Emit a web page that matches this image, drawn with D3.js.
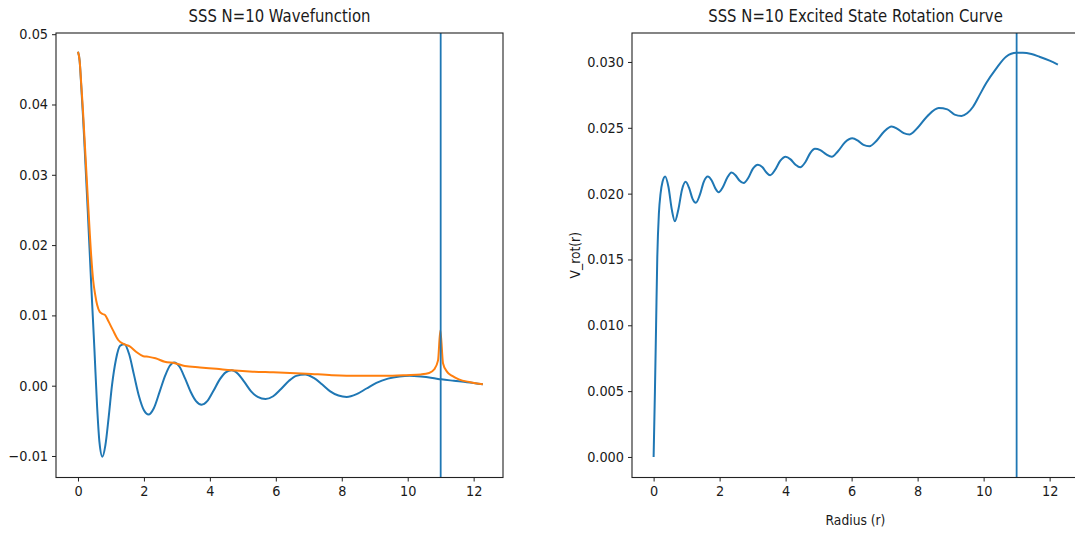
<!DOCTYPE html>
<html><head><meta charset="utf-8">
<script src="https://cdn.jsdelivr.net/npm/d3@7"></script>
<style>
body{margin:0;background:#fff;}
svg{display:block;}
text{font-family:'DejaVu Sans',sans-serif;fill:#1a1a1a;}
</style></head><body>
<svg id="c" width="1075" height="533"></svg>
<script>
// ---------- data ----------
const waveR = [0,0.05,0.10,0.15,0.20,0.30,0.40,0.50,0.58,0.65,0.74,0.83,0.93,1.03,1.15,1.28,1.41,1.55,1.70,1.85,2.00,2.14,2.30,2.48,2.65,2.78,2.92,3.08,3.25,3.42,3.58,3.75,3.92,4.10,4.30,4.48,4.66,4.85,5.05,5.25,5.45,5.69,5.92,6.15,6.40,6.62,6.89,7.15,7.40,7.65,7.90,8.15,8.45,8.75,9.05,9.40,9.75,10.05,10.40,10.75,11.02,11.40,11.80,12.28];
const waveVals = [0.0475,0.0462,0.0425,0.0385,0.0340,0.0245,0.0145,0.0050,-0.0030,-0.0080,-0.0101,-0.0085,-0.0045,0.0000,0.0037,0.0057,0.0059,0.0045,0.0015,-0.0015,-0.0035,-0.0041,-0.0032,-0.0008,0.0015,0.0028,0.0033,0.0027,0.0010,-0.0009,-0.0022,-0.0027,-0.0022,-0.0008,0.0009,0.0019,0.0022,0.0017,0.0005,-0.0008,-0.0016,-0.0019,-0.0015,-0.0005,0.0007,0.0014,0.0016,0.0011,0.0002,-0.0008,-0.0014,-0.0016,-0.0012,-0.0004,0.0004,0.0010,0.0013,0.0014,0.0013,0.0011,0.0009,0.0007,0.0005,0.0002];

const envR = [0,0.05,0.10,0.15,0.20,0.30,0.40,0.46,0.52,0.58,0.66,0.75,0.83,0.92,1.06,1.22,1.40,1.57,1.77,1.98,2.15,2.35,2.63,2.94,3.24,3.70,4.20,4.66,5.30,5.92,6.94,7.70,8.45,9.30,9.97,10.40,10.65,10.80,10.92,10.99,11.07,11.19,11.35,11.55,11.90,12.28];
const envVals = [0.0475,0.0462,0.0428,0.0392,0.0350,0.0265,0.0185,0.0150,0.0130,0.0115,0.0105,0.0102,0.0100,0.0092,0.0079,0.0065,0.0059,0.0056,0.0048,0.0042,0.0041,0.0039,0.0034,0.0032,0.0028,0.0026,0.0024,0.0022,0.0020,0.0019,0.0017,0.0015,0.0014,0.0014,0.0015,0.0016,0.0018,0.0023,0.0036,0.0079,0.0032,0.0020,0.0014,0.0009,0.0005,0.0002];

const rotR = [0,0.04,0.075,0.11,0.16,0.21,0.27,0.35,0.45,0.55,0.645,0.75,0.86,0.97,1.08,1.18,1.28,1.40,1.52,1.64,1.76,1.87,1.97,2.10,2.23,2.36,2.48,2.60,2.73,2.87,3.01,3.16,3.30,3.42,3.53,3.68,3.84,4.00,4.15,4.30,4.44,4.60,4.75,4.89,5.05,5.22,5.40,5.58,5.80,6.02,6.20,6.36,6.54,6.75,6.98,7.21,7.40,7.58,7.76,8.00,8.30,8.64,8.90,9.12,9.33,9.50,9.68,9.88,10.08,10.38,10.68,10.99,11.19,11.45,11.69,12.00,12.25];
const rotVals = [0,0.0050,0.0100,0.0150,0.0185,0.0200,0.0209,0.0213,0.0205,0.0188,0.0179,0.0188,0.0203,0.0209,0.0204,0.0196,0.0193,0.0199,0.0209,0.0213,0.0210,0.0204,0.0201,0.0205,0.0212,0.0216,0.0214,0.0210,0.0208,0.0212,0.0219,0.0222,0.0220,0.0216,0.0214,0.0218,0.0225,0.0228,0.0226,0.0222,0.0220,0.0224,0.0231,0.0234,0.0233,0.0230,0.0228,0.0232,0.0239,0.0242,0.0240,0.0237,0.0236,0.0240,0.0247,0.0251,0.0249,0.0246,0.0245,0.0250,0.0259,0.0265,0.0264,0.0260,0.0259,0.0261,0.0266,0.0275,0.0284,0.0295,0.0304,0.0307,0.0307,0.0306,0.0304,0.0301,0.0298];

const xTicks = [0,2,4,6,8,10,12];
const waveYTicks = [-0.01,0.00,0.01,0.02,0.03,0.04,0.05];
const rotYTicks = [0.000,0.005,0.010,0.015,0.020,0.025,0.030];
const markerR = 11;
const leftTitle = "SSS N=10 Wavefunction";
const rightTitle = "SSS N=10 Excited State Rotation Curve";
const rightXLabel = "Radius (r)";
const rightYLabel = "V_rot(r)";

// ---------- layout ----------
const svg = d3.select("#c");
const BLUE = "#1f77b4", ORANGE = "#ff7f0e";
const plotTop = 33, plotBottom = 477.5;
const TICK_SX = 0.92, TITLE_SX = 0.875, LABEL_SX = 0.88;

function scaleTexts(sel, sx){
  sel.each(function(){
    const t = d3.select(this);
    const x = +t.attr("x") || 0;
    t.attr("x", x / sx).attr("transform", `scale(${sx},1)`);
  });
}

function panel(opts){
  const g = svg.append("g");
  const x = d3.scaleLinear().domain(opts.xDomain).range([opts.left, opts.right]);
  const y = d3.scaleLinear().domain(opts.yDomain).range([plotBottom, plotTop]);

  const line = d3.line().x(d => x(d[0])).y(d => y(d[1])).curve(d3.curveMonotoneX);
  opts.series.forEach(s => {
    g.append("path")
      .attr("d", line(d3.zip(s.r, s.v)))
      .attr("fill", "none").attr("stroke", s.color)
      .attr("stroke-width", 2).attr("stroke-linejoin", "round");
  });
  g.append("line")
    .attr("x1", x(markerR)).attr("x2", x(markerR))
    .attr("y1", plotTop).attr("y2", plotBottom)
    .attr("stroke", BLUE).attr("stroke-width", 1.8);

  g.append("rect").attr("x", opts.left).attr("y", plotTop)
    .attr("width", opts.right - opts.left).attr("height", plotBottom - plotTop)
    .attr("fill", "none").attr("stroke", "#222").attr("stroke-width", 1.1);

  const ax = g.append("g").attr("transform", `translate(0,${plotBottom})`)
    .call(d3.axisBottom(x).tickValues(xTicks).tickSize(4).tickPadding(5).tickFormat(d3.format("d")));
  const ay = g.append("g").attr("transform", `translate(${opts.left},0)`)
    .call(d3.axisLeft(y).tickValues(opts.yTicks).tickSize(4).tickPadding(4).tickFormat(d3.format(opts.fmt)));
  [ax, ay].forEach(a => {
    a.select(".domain").remove();
    a.selectAll(".tick line").attr("stroke", "#222");
    a.selectAll(".tick text").attr("font-size", 14).attr("fill", "#1a1a1a")
      .style("font-family", "'DejaVu Sans',sans-serif");
  });
  scaleTexts(ax.selectAll(".tick text"), TICK_SX);
  scaleTexts(ay.selectAll(".tick text"), TICK_SX);

  const cx = (opts.left + opts.right) / 2;
  g.append("text").attr("text-anchor", "middle").attr("font-size", 17)
    .attr("transform", `translate(${cx},22) scale(${TITLE_SX},1)`).text(opts.title);

  if (opts.xLabel) {
    g.append("text").attr("text-anchor", "middle").attr("font-size", 14)
      .attr("transform", `translate(${cx},525) scale(${LABEL_SX},1)`).text(opts.xLabel);
  }
  if (opts.yLabel) {
    g.append("text").attr("text-anchor", "middle").attr("font-size", 14)
      .attr("transform", `translate(580,${(plotTop+plotBottom)/2}) rotate(-90) scale(${LABEL_SX},1)`).text(opts.yLabel);
  }
}

panel({
  left: 56, right: 503,
  xDomain: [-0.667, 12.89],
  yDomain: [-0.01306, 0.05017],
  yTicks: waveYTicks, fmt: ".2f",
  title: leftTitle,
  series: [
    {r: waveR, v: waveVals, color: BLUE},
    {r: envR, v: envVals, color: ORANGE}
  ]
});

panel({
  left: 632, right: 1079,
  xDomain: [-0.655, 12.89],
  yDomain: [-0.00156, 0.0322],
  yTicks: rotYTicks, fmt: ".3f",
  title: rightTitle, xLabel: rightXLabel, yLabel: rightYLabel,
  series: [{r: rotR, v: rotVals, color: BLUE}]
});
</script>
</body></html>
